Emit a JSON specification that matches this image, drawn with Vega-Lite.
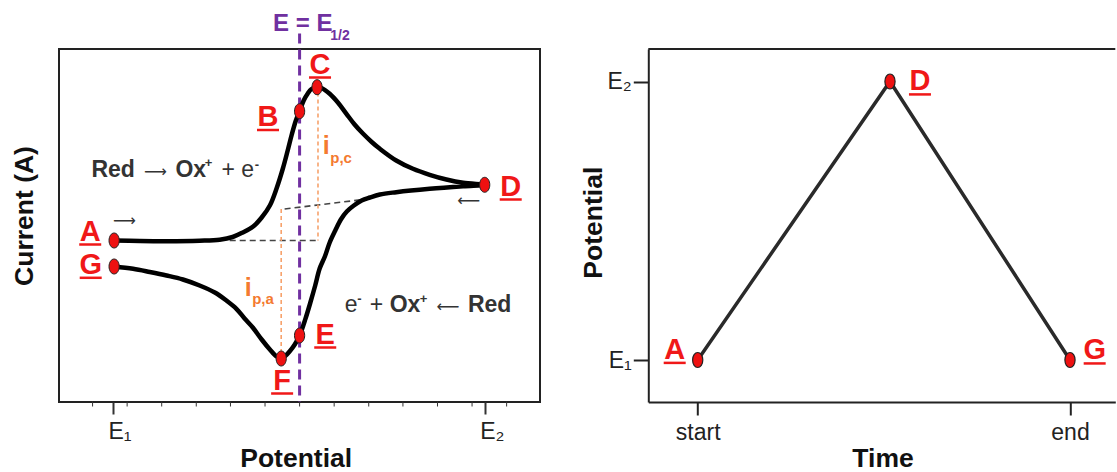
{
  "$schema": "https://vega.github.io/schema/vega-lite/v6.json",
  "padding": {"left": 10, "top": 11, "right": 0, "bottom": 0},
  "autosize": {"type": "pad"},
  "background": "white",
  "config": {
    "font": "Liberation Sans",
    "axis": {"labelFont": "Liberation Sans", "titleFont": "Liberation Sans", "grid": false}
  },
  "datasets": {
    "cv": [
      {"i": 1, "E": 0.003, "I": 0.0, "pt": "A"},
      {"i": 2, "E": 0.072, "I": -0.005},
      {"i": 3, "E": 0.144, "I": -0.007},
      {"i": 4, "E": 0.233, "I": -0.002},
      {"i": 5, "E": 0.287, "I": 0.008},
      {"i": 6, "E": 0.322, "I": 0.035},
      {"i": 7, "E": 0.349, "I": 0.08},
      {"i": 8, "E": 0.377, "I": 0.14},
      {"i": 9, "E": 0.4, "I": 0.23},
      {"i": 10, "E": 0.422, "I": 0.35},
      {"i": 11, "E": 0.44, "I": 0.52},
      {"i": 12, "E": 0.457, "I": 0.72},
      {"i": 13, "E": 0.47, "I": 0.9},
      {"i": 14, "E": 0.481, "I": 1.06},
      {"i": 15, "E": 0.492, "I": 1.2},
      {"i": 16, "E": 0.502, "I": 1.293, "pt": "B"},
      {"i": 17, "E": 0.513, "I": 1.4},
      {"i": 18, "E": 0.524, "I": 1.47},
      {"i": 19, "E": 0.534, "I": 1.515},
      {"i": 20, "E": 0.549, "I": 1.533, "pt": "C"},
      {"i": 21, "E": 0.561, "I": 1.525},
      {"i": 22, "E": 0.583, "I": 1.467},
      {"i": 23, "E": 0.605, "I": 1.38},
      {"i": 24, "E": 0.628, "I": 1.267},
      {"i": 25, "E": 0.65, "I": 1.16},
      {"i": 26, "E": 0.673, "I": 1.067},
      {"i": 27, "E": 0.696, "I": 0.985},
      {"i": 28, "E": 0.718, "I": 0.917},
      {"i": 29, "E": 0.762, "I": 0.8},
      {"i": 30, "E": 0.807, "I": 0.717},
      {"i": 31, "E": 0.852, "I": 0.657},
      {"i": 32, "E": 0.897, "I": 0.61},
      {"i": 33, "E": 0.942, "I": 0.577},
      {"i": 34, "E": 1.0, "I": 0.557, "pt": "D"},
      {"i": 35, "E": 0.942, "I": 0.543},
      {"i": 36, "E": 0.852, "I": 0.517},
      {"i": 37, "E": 0.762, "I": 0.483},
      {"i": 38, "E": 0.718, "I": 0.46},
      {"i": 39, "E": 0.691, "I": 0.43},
      {"i": 40, "E": 0.669, "I": 0.4},
      {"i": 41, "E": 0.648, "I": 0.35},
      {"i": 42, "E": 0.629, "I": 0.29},
      {"i": 43, "E": 0.613, "I": 0.21},
      {"i": 44, "E": 0.598, "I": 0.1},
      {"i": 45, "E": 0.583, "I": -0.02},
      {"i": 46, "E": 0.57, "I": -0.16},
      {"i": 47, "E": 0.556, "I": -0.28},
      {"i": 48, "E": 0.544, "I": -0.45},
      {"i": 49, "E": 0.531, "I": -0.62},
      {"i": 50, "E": 0.518, "I": -0.78},
      {"i": 51, "E": 0.502, "I": -0.95, "pt": "E"},
      {"i": 52, "E": 0.489, "I": -1.04},
      {"i": 53, "E": 0.475, "I": -1.11},
      {"i": 54, "E": 0.462, "I": -1.16},
      {"i": 55, "E": 0.4525, "I": -1.18, "pt": "F"},
      {"i": 56, "E": 0.44, "I": -1.16},
      {"i": 57, "E": 0.422, "I": -1.09},
      {"i": 58, "E": 0.4, "I": -0.99},
      {"i": 59, "E": 0.376, "I": -0.87},
      {"i": 60, "E": 0.354, "I": -0.78},
      {"i": 61, "E": 0.332, "I": -0.683},
      {"i": 62, "E": 0.305, "I": -0.6},
      {"i": 63, "E": 0.274, "I": -0.52},
      {"i": 64, "E": 0.233, "I": -0.45},
      {"i": 65, "E": 0.188, "I": -0.39},
      {"i": 66, "E": 0.144, "I": -0.35},
      {"i": 67, "E": 0.099, "I": -0.315},
      {"i": 68, "E": 0.054, "I": -0.283},
      {"i": 69, "E": 0.003, "I": -0.26, "pt": "G"}
    ],
    "cvlabels": [
      {"x": -0.0613, "y": 0.0, "t": "A"},
      {"x": 0.417, "y": 1.145, "t": "B"},
      {"x": 0.557, "y": 1.67, "t": "C"},
      {"x": 1.07, "y": 0.45, "t": "D"},
      {"x": 0.571, "y": -1.03, "t": "E"},
      {"x": 0.455, "y": -1.49, "t": "F"},
      {"x": -0.06, "y": -0.333, "t": "G"}
    ],
    "minor": [
      {"x": -0.055}, {"x": 0.038}, {"x": 0.131}, {"x": 0.224}, {"x": 0.316}, {"x": 0.409},
      {"x": 0.502}, {"x": 0.595}, {"x": 0.688}, {"x": 0.78}, {"x": 0.873}, {"x": 0.966}, {"x": 1.059}
    ],
    "segs": [
      {"x": 0.314, "y": 0.0, "x2": 0.556, "y2": 0.0, "k": "g"},
      {"x": 0.4617, "y": 0.315, "x2": 0.696, "y2": 0.42, "k": "g"},
      {"x": 0.5515, "y": 1.48, "x2": 0.5515, "y2": 0.0, "k": "o"},
      {"x": 0.4525, "y": 0.315, "x2": 0.4525, "y2": -1.18, "k": "o"},
      {"x": 0.502, "y": 2.07, "x2": 0.502, "y2": -1.615, "k": "p"}
    ],
    "ann": [
      {"x": -0.0581, "y": 0.633, "t": "Red", "k": "b"},
      {"x": 0.1679, "y": 0.633, "t": "Ox", "k": "b"},
      {"x": 0.2467, "y": 0.74, "t": "+", "k": "s"},
      {"x": 0.2916, "y": 0.633, "t": "+ e", "k": "r"},
      {"x": 0.3812, "y": 0.72, "t": "-", "k": "s"},
      {"x": 0.6234, "y": -0.717, "t": "e", "k": "r"},
      {"x": 0.657, "y": -0.62, "t": "-", "k": "s"},
      {"x": 0.6906, "y": -0.717, "t": "+", "k": "r"},
      {"x": 0.7444, "y": -0.717, "t": "Ox", "k": "b"},
      {"x": 0.8251, "y": -0.62, "t": "+", "k": "s"},
      {"x": 0.955, "y": -0.717, "t": "Red", "k": "b"},
      {"x": 0.4305, "y": 2.093, "t": "E = E", "k": "p"},
      {"x": 0.5844, "y": 2.01, "t": "1/2", "k": "ps"},
      {"x": 0.5644, "y": 0.87, "t": "i", "k": "o"},
      {"x": 0.5844, "y": 0.78, "t": "p,c", "k": "os"},
      {"x": 0.3543, "y": -0.55, "t": "i", "k": "o"},
      {"x": 0.3745, "y": -0.63, "t": "p,a", "k": "os"}
    ],
    "arrows": [
      {"x": 0.1143, "y": 0.633, "t": "⟶"},
      {"x": 0.9013, "y": -0.717, "t": "⟵"},
      {"x": 0.0307, "y": 0.15, "t": "⟶"},
      {"x": 0.957, "y": 0.35, "t": "⟵"}
    ],
    "scan": [
      {"t": 0, "E": 0, "pt": "A"},
      {"t": 0.5165, "E": 1, "pt": "D"},
      {"t": 1, "E": 0, "pt": "G"}
    ],
    "scanlabels": [
      {"x": -0.0618, "y": 0.004, "t": "A"},
      {"x": 0.597, "y": 0.968, "t": "D"},
      {"x": 1.0663, "y": 0.002, "t": "G"}
    ]
  },
  "bounds": "flush",
  "spacing": 108.3,
  "hconcat": [
    {
      "width": 481,
      "height": 353,
      "view": {"stroke": "#222", "strokeWidth": 2},
      "encoding": {
        "x": {"type": "quantitative", "scale": {"domain": [-0.1453, 1.1488], "nice": false, "zero": false}},
        "y": {"type": "quantitative", "scale": {"domain": [-1.615, 1.915], "nice": false, "zero": false}}
      },
      "layer": [
        {
          "data": {"name": "segs"},
          "transform": [{"filter": "datum.k == 'g'"}],
          "mark": {"type": "rule", "color": "#444", "strokeWidth": 1.6, "strokeDash": [6, 4]},
          "encoding": {
            "x": {"field": "x", "type": "quantitative", "title": "Potential",
              "axis": {
                "title": "Potential", "titleFontSize": 26.5, "titleFontWeight": "bold", "titleColor": "#111",
                "titleX": 236.7, "titleY": 64.5, "titleBaseline": "alphabetic", "titleAlign": "center",
                "values": [0, 1],
                "labelExpr": "datum.value < 0.5 ? 'E₁' : 'E₂'",
                "labelFontSize": 23, "labelColor": "#222", "labelAlign": "left", "labelOffset": -5,
                "labelBaseline": "alphabetic", "labelPadding": 24.5, "labelOverlap": false, "labelFlush": false, "labelBound": false,
                "tickSize": 12, "tickWidth": 2,
                "tickColor": "#333", "domain": false, "grid": false
              }},
            "y": {"field": "y", "type": "quantitative", "title": "Current (A)",
              "axis": {
                "title": "Current (A)", "titleFontSize": 26.5, "titleFontWeight": "bold", "titleColor": "#111",
                "titleX": -26.3, "titleY": 166.5, "titleAngle": -90, "titleBaseline": "alphabetic", "titleAlign": "center",
                "ticks": false, "labels": false, "domain": false, "grid": false
              }},
            "x2": {"field": "x2"},
            "y2": {"field": "y2"}
          }
        },
        {
          "data": {"name": "minor"},
          "mark": {"type": "tick", "orient": "vertical", "size": 5, "thickness": 1, "color": "#333", "yOffset": 2, "opacity": 1},
          "encoding": {
            "x": {"field": "x", "type": "quantitative"},
            "y": {"datum": -1.615}
          }
        },
        {
          "data": {"name": "segs"},
          "transform": [{"filter": "datum.k == 'o'"}],
          "mark": {"type": "rule", "color": "#f7a26c", "strokeWidth": 1.6, "strokeDash": [4, 3]},
          "encoding": {
            "x": {"field": "x", "type": "quantitative"},
            "y": {"field": "y", "type": "quantitative"},
            "x2": {"field": "x2"},
            "y2": {"field": "y2"}
          }
        },
        {
          "data": {"name": "segs"},
          "transform": [{"filter": "datum.k == 'p'"}],
          "mark": {"type": "rule", "color": "#7030a0", "strokeWidth": 3, "strokeDash": [10, 6]},
          "encoding": {
            "x": {"field": "x", "type": "quantitative"},
            "y": {"field": "y", "type": "quantitative"},
            "x2": {"field": "x2"},
            "y2": {"field": "y2"}
          }
        },
        {
          "data": {"name": "cv"},
          "mark": {"type": "line", "color": "#000", "strokeWidth": 4.5, "interpolate": "catmull-rom"},
          "encoding": {
            "x": {"field": "E", "type": "quantitative"},
            "y": {"field": "I", "type": "quantitative"},
            "order": {"field": "i", "type": "quantitative"}
          }
        },
        {
          "data": {"name": "cv"},
          "transform": [{"filter": "datum.pt"}],
          "mark": {"type": "point", "shape": "M-0.68,0A0.68,1,0,1,0,0.68,0A0.68,1,0,1,0,-0.68,0Z", "size": 225, "filled": true, "color": "#ee1111", "stroke": "#222", "strokeWidth": 1, "opacity": 1},
          "encoding": {
            "x": {"field": "E", "type": "quantitative"},
            "y": {"field": "I", "type": "quantitative"}
          }
        },
        {
          "data": {"name": "cvlabels"},
          "mark": {"type": "text", "font": "Liberation Sans", "fontSize": 29, "fontWeight": "bold", "color": "#f01818", "align": "center", "baseline": "alphabetic"},
          "encoding": {
            "x": {"field": "x", "type": "quantitative"},
            "y": {"field": "y", "type": "quantitative"},
            "text": {"field": "t"}
          }
        },
        {
          "data": {"name": "cvlabels"},
          "mark": {"type": "tick", "orient": "horizontal", "size": 22, "thickness": 2.5, "color": "#f01818", "yOffset": 4, "opacity": 1},
          "encoding": {
            "x": {"field": "x", "type": "quantitative"},
            "y": {"field": "y", "type": "quantitative"}
          }
        },
        {
          "data": {"name": "ann"},
          "transform": [{"filter": "datum.k == 'b'"}],
          "mark": {"type": "text", "fontSize": 23, "fontWeight": "bold", "color": "#333", "align": "left", "baseline": "alphabetic"},
          "encoding": {"x": {"field": "x", "type": "quantitative"}, "y": {"field": "y", "type": "quantitative"}, "text": {"field": "t"}}
        },
        {
          "data": {"name": "ann"},
          "transform": [{"filter": "datum.k == 'r'"}],
          "mark": {"type": "text", "fontSize": 23, "fontWeight": "normal", "color": "#333", "align": "left", "baseline": "alphabetic"},
          "encoding": {"x": {"field": "x", "type": "quantitative"}, "y": {"field": "y", "type": "quantitative"}, "text": {"field": "t"}}
        },
        {
          "data": {"name": "ann"},
          "transform": [{"filter": "datum.k == 's'"}],
          "mark": {"type": "text", "fontSize": 13, "fontWeight": "bold", "color": "#333", "align": "left", "baseline": "alphabetic"},
          "encoding": {"x": {"field": "x", "type": "quantitative"}, "y": {"field": "y", "type": "quantitative"}, "text": {"field": "t"}}
        },
        {
          "data": {"name": "ann"},
          "transform": [{"filter": "datum.k == 'p'"}],
          "mark": {"type": "text", "fontSize": 24, "fontWeight": "bold", "color": "#7030a0", "align": "left", "baseline": "alphabetic"},
          "encoding": {"x": {"field": "x", "type": "quantitative"}, "y": {"field": "y", "type": "quantitative"}, "text": {"field": "t"}}
        },
        {
          "data": {"name": "ann"},
          "transform": [{"filter": "datum.k == 'ps'"}],
          "mark": {"type": "text", "fontSize": 14, "fontWeight": "bold", "color": "#7030a0", "align": "left", "baseline": "alphabetic"},
          "encoding": {"x": {"field": "x", "type": "quantitative"}, "y": {"field": "y", "type": "quantitative"}, "text": {"field": "t"}}
        },
        {
          "data": {"name": "ann"},
          "transform": [{"filter": "datum.k == 'o'"}],
          "mark": {"type": "text", "fontSize": 25, "fontWeight": "bold", "color": "#f47a30", "align": "left", "baseline": "alphabetic"},
          "encoding": {"x": {"field": "x", "type": "quantitative"}, "y": {"field": "y", "type": "quantitative"}, "text": {"field": "t"}}
        },
        {
          "data": {"name": "ann"},
          "transform": [{"filter": "datum.k == 'os'"}],
          "mark": {"type": "text", "fontSize": 15, "fontWeight": "bold", "color": "#f47a30", "align": "left", "baseline": "alphabetic"},
          "encoding": {"x": {"field": "x", "type": "quantitative"}, "y": {"field": "y", "type": "quantitative"}, "text": {"field": "t"}}
        },
        {
          "data": {"name": "arrows"},
          "mark": {"type": "text", "font": "DejaVu Sans", "fontSize": 16, "fontWeight": "normal", "color": "#333", "align": "center", "baseline": "alphabetic"},
          "encoding": {"x": {"field": "x", "type": "quantitative"}, "y": {"field": "y", "type": "quantitative"}, "text": {"field": "t"}}
        }
      ]
    },
    {
      "width": 467,
      "height": 353,
      "view": {"stroke": null},
      "encoding": {
        "x": {"type": "quantitative", "scale": {"domain": [-0.1327, 1.1217], "nice": false, "zero": false}},
        "y": {"type": "quantitative", "scale": {"domain": [-0.1508, 1.1167], "nice": false, "zero": false}}
      },
      "layer": [
        {
          "data": {"name": "scan"},
          "mark": {"type": "line", "color": "#2a2a2a", "strokeWidth": 3.5},
          "encoding": {
            "x": {"field": "t", "type": "quantitative", "title": "Time",
              "axis": {
                "title": "Time", "titleFontSize": 26.5, "titleFontWeight": "bold", "titleColor": "#111",
                "titleX": 234.2, "titleY": 64.5, "titleBaseline": "alphabetic", "titleAlign": "center",
                "values": [0, 1],
                "labelExpr": "datum.value < 0.5 ? 'start' : 'end'",
                "labelFontSize": 23, "labelColor": "#222", "labelAlign": "center",
                "labelBaseline": "alphabetic", "labelPadding": 24.5, "labelFlush": false, "labelBound": false,
                "tickSize": 13, "tickWidth": 2, "tickColor": "#222",
                "domain": true, "domainColor": "#222", "domainWidth": 2, "grid": false
              }},
            "y": {"field": "E", "type": "quantitative", "title": "Potential",
              "axis": {
                "title": "Potential", "titleFontSize": 26.5, "titleFontWeight": "bold", "titleColor": "#111",
                "titleX": -46.6, "titleY": 173.2, "titleAngle": -90, "titleBaseline": "alphabetic", "titleAlign": "center",
                "values": [0, 1],
                "labelExpr": "datum.value < 0.5 ? 'E₁' : 'E₂'",
                "labelFontSize": 23, "labelColor": "#222", "labelPadding": 2, "labelFlush": false,
                "tickSize": 15, "tickWidth": 2, "tickColor": "#222",
                "domain": true, "domainColor": "#222", "domainWidth": 2, "grid": false
              }},
            "order": {"field": "t", "type": "quantitative"}
          }
        },
        {
          "data": {"values": [{"top": 1.1167}]},
          "mark": {"type": "rule", "color": "#222", "strokeWidth": 2},
          "encoding": {"y": {"field": "top", "type": "quantitative"}}
        },
        {
          "data": {"name": "scan"},
          "mark": {"type": "point", "shape": "M-0.68,0A0.68,1,0,1,0,0.68,0A0.68,1,0,1,0,-0.68,0Z", "size": 225, "filled": true, "color": "#ee1111", "stroke": "#222", "strokeWidth": 1.2, "opacity": 1},
          "encoding": {
            "x": {"field": "t", "type": "quantitative"},
            "y": {"field": "E", "type": "quantitative"}
          }
        },
        {
          "data": {"name": "scanlabels"},
          "mark": {"type": "text", "fontSize": 29, "fontWeight": "bold", "color": "#f01818", "align": "center", "baseline": "alphabetic"},
          "encoding": {
            "x": {"field": "x", "type": "quantitative"},
            "y": {"field": "y", "type": "quantitative"},
            "text": {"field": "t"}
          }
        },
        {
          "data": {"name": "scanlabels"},
          "mark": {"type": "tick", "orient": "horizontal", "size": 22, "thickness": 2.5, "color": "#f01818", "yOffset": 4, "opacity": 1},
          "encoding": {
            "x": {"field": "x", "type": "quantitative"},
            "y": {"field": "y", "type": "quantitative"}
          }
        }
      ]
    }
  ]
}
